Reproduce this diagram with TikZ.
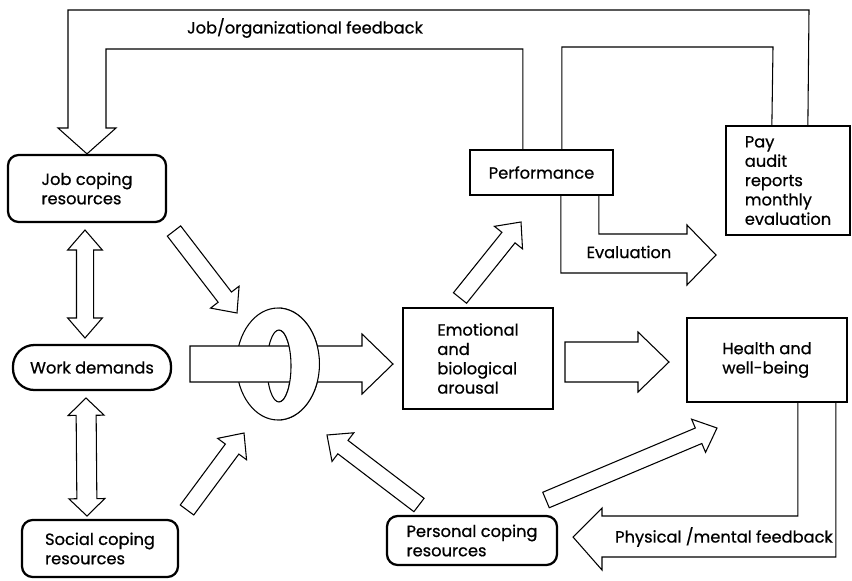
\documentclass[tikz,border=0pt]{standalone}
\usepackage{fontspec}
\setmainfont{Poppins}[FakeBold=0.7]
\usetikzlibrary{calc}
\tikzset{
  arr/.style={draw,line width=0.8pt,fill=white,line join=miter},
  sbox/.style={draw,line width=1.7pt,inner sep=0pt,align=left},
  rbox/.style={sbox,rounded corners=8pt},
}
\newcommand\fatarrow[5]{%
  \coordinate (fa-h) at ($(#2)!#5!(#1)$);
  \draw[arr] ($(#1)!#3!90:(#2)$) -- ($(fa-h)!#3!90:(#2)$) -- ($(fa-h)!#4!90:(#2)$) -- (#2)
    -- ($(fa-h)!#4!-90:(#2)$) -- ($(fa-h)!#3!-90:(#2)$) -- ($(#1)!#3!-90:(#2)$) -- cycle;}
\newcommand\dblarrow[5]{%
  \coordinate (da-a) at ($(#1)!#5!(#2)$);
  \coordinate (da-b) at ($(#2)!#5!(#1)$);
  \draw[arr] (#1) -- ($(da-a)!#4!90:(#2)$) -- ($(da-a)!#3!90:(#2)$) -- ($(da-b)!#3!-90:(#1)$)
    -- ($(da-b)!#4!-90:(#1)$) -- (#2) -- ($(da-b)!#4!90:(#1)$) -- ($(da-b)!#3!90:(#1)$)
    -- ($(da-a)!#3!-90:(#2)$) -- ($(da-a)!#4!-90:(#2)$) -- cycle;}
\begin{document}
\begin{tikzpicture}[x=0.75pt,y=-0.75pt,font=\fontsize{12.2}{14.5}\selectfont]
\useasboundingbox (0,0) rectangle (852,581);
\node[rbox,minimum width=118.5pt,minimum height=50.25pt] (job) at (87,188.5) {Job coping\\resources};
\node[sbox,rounded corners=16pt,minimum width=118.5pt,minimum height=33.75pt] (work) at (92,367.5) {Work demands};
\node[rbox,minimum width=117pt,minimum height=42.75pt] (social) at (100,548.5) {Social coping\\resources};
\node[rbox,minimum width=127.5pt,minimum height=36.75pt] (personal) at (472,540.5) {Personal coping\\resources};
\node[sbox,minimum width=112.5pt,minimum height=75.75pt] (emo) at (478,358.5) {Emotional\\and\\biological\\arousal};
\node[sbox,minimum width=107.25pt,minimum height=33.75pt] (perf) at (541.5,172.5) {Performance};
\node[sbox,minimum width=93pt,minimum height=81.75pt] (pay) at (788,180.5) {Pay\\audit\\reports\\monthly\\evaluation};
\node[sbox,minimum width=120pt,minimum height=63pt] (health) at (767,360) {Health and\\well-being};
\coordinate (jd1) at (85,230); \coordinate (jd2) at (85,338);
\coordinate (sd1) at (86,398); \coordinate (sd2) at (87,516);
\coordinate (jr1) at (174,231); \coordinate (jr2) at (237,313);
\coordinate (sr1) at (187,510); \coordinate (sr2) at (244,433);
\coordinate (pr1) at (419,505); \coordinate (pr2) at (327,435);
\coordinate (ep1) at (460,298); \coordinate (ep2) at (521,222);
\coordinate (ph1) at (546,500); \coordinate (ph2) at (717,428);
\coordinate (wr1) at (190,364); \coordinate (wr2) at (393,364);
\coordinate (eh1) at (565,362); \coordinate (eh2) at (669,362);
\coordinate (evtip) at (716,255); \coordinate (pmtip) at (573,537);
\dblarrow{jd1}{jd2}{6.4pt}{13pt}{15pt}
\dblarrow{sd1}{sd2}{7.5pt}{13.5pt}{13pt}
\foreach \a in {jr,sr,pr,ep,ph}{\fatarrow{\a1}{\a2}{6.3pt}{13.5pt}{15pt}}
\fatarrow{eh1}{eh2}{15pt}{22.5pt}{23.25pt}
\draw[arr,even odd rule] (278,364) ellipse [x radius=31.1pt,y radius=42pt] (279,366) ellipse [x radius=9pt,y radius=27pt];
\fatarrow{wr1}{wr2}{13.5pt}{22.5pt}{23.25pt}
\begin{scope}
\clip (279,290) rectangle (340,440);
\draw[arr,even odd rule] (278,364) ellipse [x radius=31.1pt,y radius=42pt] (279,366) ellipse [x radius=9pt,y radius=27pt];
\end{scope}
\draw[arr,fill=none] ($(perf.north west)+(54,0)$) |- (106,49) -- (106,128) -- (116,128) -- (job.north) -- (58,128) -- (68,128) |- (809,10) -- ($(pay.north west)+(83,0)$);
\draw[arr,fill=none] ($(perf.north west)+(93,0)$) |- (773,47) -- ($(pay.north west)+(47,0)$);
\draw[arr,fill=none] ($(perf.south west)+(130,0)$) |- (687,234) -- (687,225) -- (evtip) -- (687,285) -- (687,273) -| ($(perf.south west)+(92,0)$);
\draw[arr,fill=none] ($(health.south west)+(112,0)$) |- (602,516) -- (602,508) -- (pmtip) -- (602,570) -- (602,557) -| ($(health.south west)+(150,0)$);
\node (jobfb) at (305,28) {Job/organizational feedback};
\node (evlab) at (629,252) {Evaluation};
\node (pmfb) at (724,537) {Physical /mental feedback};
\end{tikzpicture}
\end{document}
